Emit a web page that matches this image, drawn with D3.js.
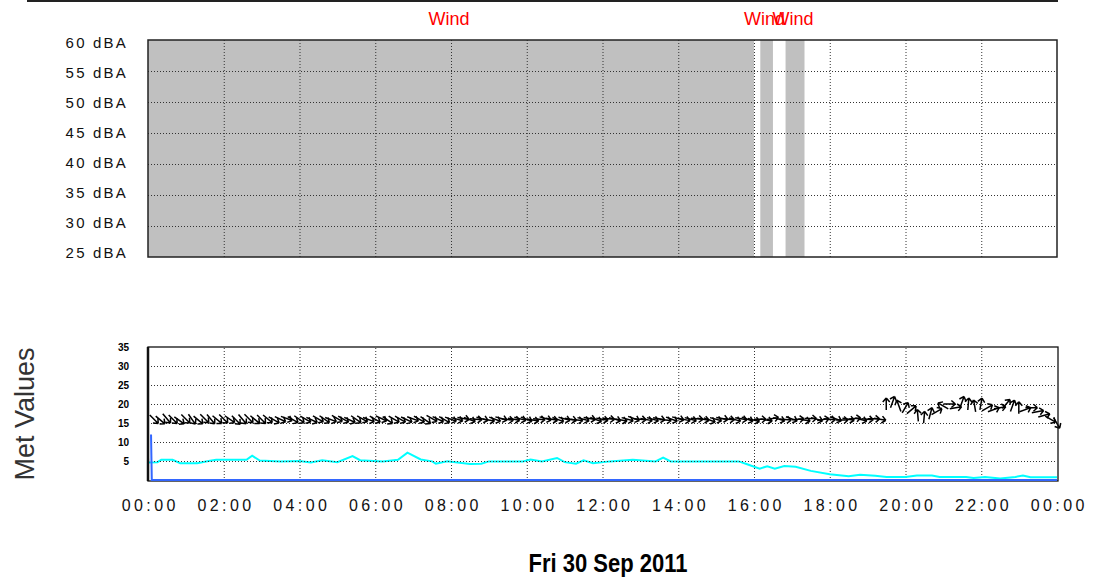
<!DOCTYPE html>
<html><head><meta charset="utf-8">
<script src="https://cdn.jsdelivr.net/npm/d3@7"></script>
<style>body{margin:0;background:#fff}svg{display:block}</style>
</head><body>
<svg id="c" width="1095" height="580"></svg>
<script>
// ---------- data ----------
const dbaTicks = [25, 30, 35, 40, 45, 50, 55, 60];
const metTicks = [5, 10, 15, 20, 25, 30, 35];
const hourTicks = [0, 2, 4, 6, 8, 10, 12, 14, 16, 18, 20, 22, 24];
const hourTickLabels = ["00:00","02:00","04:00","06:00","08:00","10:00","12:00","14:00","16:00","18:00","20:00","22:00","00:00"];
const dateTitle = "Fri 30 Sep 2011";
const metTitle = "Met Values";

// flagged (wind) periods, hours
const windStart = [0, 16.1667, 16.8333];
const windEnd   = [16, 16.5, 17.3333];
const windLabels = ["Wind", "Wind", "Wind"];

// wind speed (cyan)
const speedHours = [0.0,0.25,0.35,0.65,0.85,1.3,1.6,1.8,2.6,2.75,2.95,3.5,4.0,4.3,4.6,5.0,5.4,5.6,6.2,6.6,6.85,7.2,7.5,7.6,7.9,8.5,8.8,9.0,9.9,10.1,10.4,10.8,11.0,11.3,11.5,11.75,12.2,12.8,13.4,13.6,13.8,14.5,15.6,15.8,16.15,16.35,16.55,16.8,17.1,17.5,18.0,18.5,18.8,19.2,19.5,20.0,20.3,20.7,20.9,21.6,21.8,22.1,22.5,22.9,23.1,23.3,24.0];
const speedValues = [4.6,4.7,5.3,5.3,4.4,4.4,5.0,5.3,5.3,6.4,5.1,4.9,5.0,4.6,5.2,4.7,6.3,5.2,4.9,5.3,7.2,5.4,4.9,4.3,4.9,4.2,4.3,4.9,4.9,5.4,4.9,5.8,4.7,4.3,5.2,4.4,4.9,5.3,4.9,5.9,4.9,4.9,4.9,4.2,3.0,3.6,3.0,3.7,3.5,2.4,1.5,1.0,1.4,1.1,0.8,0.8,1.2,1.2,0.8,0.8,0.5,0.8,0.4,0.8,1.2,0.7,0.7];

// rain (blue)
const rainHours = [0.08, 0.1, 24];
const rainValues = [12, 0, 0];
// short dark start segment
const gustHours = [0, 0.01];
const gustValues = [9, 4.6];

// wind direction arrows, one per 10 minutes from 00:00 (compass degrees "from")
const dirValues = [315,310,320,315,305,315,325,310,315,320,310,315,305,315,320,315,310,315,310,300,295,290,300,305,300,295,300,305,290,300,300,295,305,300,290,300,295,305,300,300,295,290,300,305,300,295,300,290,
285,280,290,275,285,280,290,285,275,280,285,290,280,275,285,280,290,285,280,275,285,280,290,280,275,285,280,285,290,275,280,285,280,275,290,285,280,285,275,280,290,285,280,275,285,280,290,285,
270,280,260,285,275,290,265,280,270,285,260,275,290,270,280,265,285,275,270,280,
180,200,160,210,230,175,185,195,240,120,270,260,200,185,170,190,240,250,260,220,200,180,250,270,260,255,300,330];
const dirHeights = [16,15.8,16.2,16,15.7,16.1,16,15.8,16.2,16,15.9,16.1,16,15.8,16,16.2,15.9,16,16.1,15.8,16,16.2,15.9,16,16,15.8,16.1,16,15.9,16.2,16,15.8,16,16.1,15.9,16,16.2,15.8,16,16,15.9,16.1,16,15.8,16.2,16,15.9,16,
16,16.2,15.9,16,16.1,15.8,16,16.2,15.9,16,16.1,16,15.8,16,16.2,16,15.9,16.1,16,15.8,16,16.2,15.9,16,16.1,16,15.8,16,16.2,16,15.9,16,16.1,15.8,16,16.2,15.9,16,16.1,16,15.8,16,16.2,16,15.9,16.1,16,15.8,
16,15.8,16.2,16,15.9,16.1,16,15.8,16.2,16,15.9,16,16.1,15.8,16,16.2,15.9,16,16.1,16,
20,20.5,19.5,19,18.5,17,16.5,17.5,18,19.5,20,19,20.5,20,19.5,20,19,18.5,19,20,19.5,19,18.5,19,18,17,16,15];

// ---------- layout ----------
const svg = d3.select("#c");
const base = new Date(2011, 8, 30, 0, 0, 0);
const T = h => new Date(base.getTime() + h * 3600e3);
const x = d3.scaleTime().domain([T(0), T(24)]).range([148, 1057]);
const yTop = d3.scaleLinear().domain([25, 60]).range([257, 40]);
const yTopLab = d3.scaleLinear().domain([25, 60]).range([253, 43]);
const yMet = d3.scaleLinear().domain([0, 35]).range([480, 347]);

// top rule
svg.append("line").attr("x1", 27).attr("x2", 1058).attr("y1", 1).attr("y2", 1)
  .attr("stroke", "#222").attr("stroke-width", 2);

// ---------- top chart ----------
const topG = svg.append("g");
topG.append("rect").attr("x", 148).attr("y", 40).attr("width", 909).attr("height", 217).attr("fill", "#fff");
const flags = windStart.map((s, i) => ({s, e: windEnd[i], l: windLabels[i]}));
topG.selectAll("rect.flag").data(flags)
  .join("rect").attr("class", "flag")
  .attr("x", d => x(T(d.s))).attr("width", d => x(T(d.e)) - x(T(d.s)))
  .attr("y", 40).attr("height", 217).attr("fill", "#c0c0c0");

function grid(g, xs, yScale, yVals, y0, y1) {
  g.append("g").attr("transform", `translate(0,${y1})`)
    .call(d3.axisBottom(x).tickValues(xs.map(T)).tickSize(-(y1 - y0)).tickFormat(""))
    .call(a => a.select(".domain").remove())
    .selectAll("line").attr("stroke", "#333").attr("stroke-dasharray", "1,2");
  g.append("g").attr("transform", "translate(148,0)")
    .call(d3.axisLeft(yScale).tickValues(yVals).tickSize(-909).tickFormat(""))
    .call(a => a.select(".domain").remove())
    .selectAll("line").attr("stroke", "#333").attr("stroke-dasharray", "1,2");
}
grid(topG, hourTicks.slice(1, -1), yTop, dbaTicks.slice(1, -1), 40, 257);
topG.append("rect").attr("x", 148).attr("y", 40).attr("width", 909).attr("height", 217)
  .attr("fill", "none").attr("stroke", "#222").attr("stroke-width", 1.5);

topG.selectAll("text.flagl").data(flags)
  .join("text").attr("class", "flagl")
  .attr("x", d => (x(T(d.s)) + x(T(d.e))) / 2 - 2).attr("y", 25)
  .attr("text-anchor", "middle").attr("fill", "#ff0000")
  .style("font", "18px 'Liberation Sans', Arial, sans-serif")
  .text(d => d.l);

const ya = svg.append("g").attr("transform", "translate(128,0)")
  .call(d3.axisLeft(yTopLab).tickValues(dbaTicks).tickSize(0).tickPadding(0).tickFormat(d => d + " dBA"));
ya.select(".domain").remove();
ya.selectAll("text").attr("fill", "#111")
  .style("font", "15px 'Liberation Sans', Arial, sans-serif").style("letter-spacing", "2.2px");

// ---------- bottom chart ----------
const bot = svg.append("g");
grid(bot, hourTicks.slice(1, -1), yMet, metTicks.slice(0, -1), 347, 481);

const line = d3.line().x(d => x(T(d[0]))).y(d => yMet(d[1]));
bot.append("path").datum(speedHours.map((h, i) => [h, speedValues[i]]))
  .attr("d", line).attr("fill", "none").attr("stroke", "#00ffff").attr("stroke-width", 2);
bot.append("path").datum(gustHours.map((h, i) => [h, gustValues[i]]))
  .attr("d", line).attr("fill", "none").attr("stroke", "#000080").attr("stroke-width", 1.5);

bot.append("g").attr("transform", "translate(148,0)")
  .call(d3.axisLeft(yMet).tickValues([5]).tickSize(-909).tickFormat(""))
  .call(a => a.select(".domain").remove())
  .selectAll("line").attr("stroke", "#333").attr("stroke-dasharray", "1,2");

const arrows = bot.selectAll("g.arr").data(dirValues.map((d, i) => ({t: i / 6, dir: d, h: dirHeights[i]})))
  .join("g").attr("class", "arr")
  .attr("transform", d => `translate(${x(T(d.t)) + 6},${yMet(d.h)}) rotate(${d.dir + 90})`);
arrows.append("path").attr("d", "M-6,0L6,0M6,0L2,-3.5M6,0L2,3.5")
  .attr("fill", "none").attr("stroke", "#000").attr("stroke-width", 1.5);

bot.append("rect").attr("x", 148).attr("y", 347).attr("width", 910).attr("height", 134)
  .attr("fill", "none").attr("stroke", "#111").attr("stroke-width", 1.3);
bot.append("line").attr("x1", 148).attr("x2", 148).attr("y1", 347).attr("y2", 481)
  .attr("stroke", "#111").attr("stroke-width", 2.5);

bot.append("path").datum(rainHours.map((h, i) => [h, rainValues[i]]))
  .attr("d", line).attr("fill", "none").attr("stroke", "#3366ff").attr("stroke-width", 2);

const ma = svg.append("g").attr("transform", "translate(129,0)")
  .call(d3.axisLeft(yMet).tickValues(metTicks).tickSize(0).tickPadding(0));
ma.select(".domain").remove();
ma.selectAll("text").attr("fill", "#000")
  .style("font", "bold 10px 'Liberation Sans Narrow', 'Liberation Sans', Arial, sans-serif");

svg.append("text").attr("transform", "translate(34,414) rotate(-90)")
  .attr("text-anchor", "middle").attr("fill", "#333")
  .style("font", "27px 'Liberation Sans', Arial, sans-serif").text(metTitle);

const xa = svg.append("g").attr("transform", "translate(0,500)")
  .call(d3.axisBottom(x).tickValues(hourTicks.map(T)).tickSize(0).tickPadding(0)
    .tickFormat((d, i) => hourTickLabels[i]));
xa.select(".domain").remove();
xa.selectAll("text").attr("fill", "#111").attr("dx", "1.7px")
  .style("font", "16px 'Liberation Sans', Arial, sans-serif").style("letter-spacing", "3.4px");

svg.append("text").attr("transform", "translate(608,572) scale(0.88,1)").attr("text-anchor", "middle")
  .attr("fill", "#000").style("font", "bold 25px 'Liberation Sans', Arial, sans-serif")
  .text(dateTitle);
</script>
</body></html>
